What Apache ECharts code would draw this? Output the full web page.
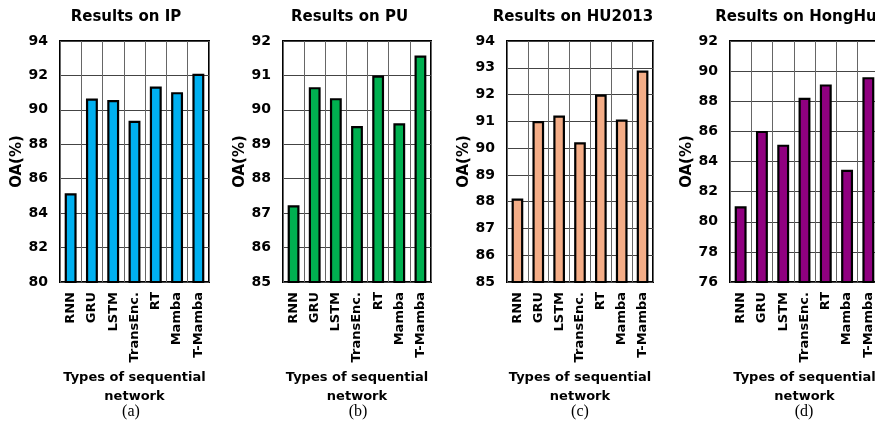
<!DOCTYPE html>
<html>
<head>
<meta charset="utf-8">
<script src="https://cdn.jsdelivr.net/npm/echarts@6/dist/echarts.min.js"></script>
<style>
html,body{margin:0;padding:0;background:#fff;}
#chart{width:875px;height:428px;}
</style>
</head>
<body>
<div id="chart"></div>
<script>
const categories = ['RNN', 'GRU', 'LSTM', 'TransEnc.', 'RT', 'Mamba', 'T-Mamba'];
const ipValues = [85.15, 90.66, 90.57, 89.36, 91.35, 91.03, 92.1];
const puValues = [87.23, 90.66, 90.34, 89.53, 91.0, 89.61, 91.58];
const hu2013Values = [88.12, 91.01, 91.22, 90.22, 92.0, 91.07, 92.9];
const honghuValues = [81.03, 86.03, 85.12, 88.23, 89.12, 83.45, 89.6];
const titles = ['Results on IP', 'Results on PU', 'Results on HU2013', 'Results on HongHu'];
const captions = ['(a)', '(b)', '(c)', '(d)'];
const yMins = [80, 85, 85, 76];
const yMaxs = [94, 92, 94, 92];
const yIntervals = [2, 1, 1, 2];

const seriesValues = [ipValues, puValues, hu2013Values, honghuValues];
const colors = ['#00B0F0', '#00B050', '#F4AD87', '#900080'];
const gridLefts = [60, 283, 507, 730];
const gridWidths = [149, 148, 146, 149];
const titleCenters = [121, 344.5, 568, 791];
const captionCenters = [131, 358, 580, 804];
const font = '"DejaVu Sans", sans-serif';

const chart = echarts.init(document.getElementById('chart'), null, {renderer: 'canvas'});
const grid = [], xAxis = [], yAxis = [], series = [], title = [], graphic = [];
for (let i = 0; i < 4; i++) {
  grid.push({left: gridLefts[i], top: 41, width: gridWidths[i], height: 241,
    outerBoundsMode: 'none', containLabel: false,
    show: true, borderColor: '#000', borderWidth: 2, backgroundColor: 'transparent'});
  xAxis.push({type: 'category', gridIndex: i, data: categories,
    axisLine: {show: false}, axisTick: {show: false},
    splitLine: {show: true, lineStyle: {color: '#666', width: 1}},
    axisLabel: {rotate: 90, margin: 10, fontFamily: font, fontWeight: 'bold', fontSize: 13, color: '#000', interval: 0},
    name: 'Types of sequential\nnetwork', nameLocation: 'middle', nameGap: 86, nameMoveOverlap: false,
    nameTextStyle: {fontFamily: font, fontWeight: 'bold', fontSize: 13, color: '#000', lineHeight: 19}});
  yAxis.push({type: 'value', gridIndex: i, min: yMins[i], max: yMaxs[i], interval: yIntervals[i],
    axisLine: {show: false}, axisTick: {show: false},
    splitLine: {show: true, lineStyle: {color: '#444', width: 1}},
    axisLabel: {margin: 12, fontFamily: font, fontWeight: 'bold', fontSize: 14, color: '#000'},
    name: 'OA(%)', nameLocation: 'middle', nameGap: 35, nameMoveOverlap: false,
    nameTextStyle: {fontFamily: font, fontWeight: 'bold', fontSize: 15, color: '#000'}});
  series.push({type: 'bar', xAxisIndex: i, yAxisIndex: i, data: seriesValues[i], barWidth: '56%',
    itemStyle: {color: colors[i], borderColor: '#000', borderWidth: 2.2}, animation: false});
  title.push({text: titles[i], left: titleCenters[i], top: 5, textAlign: 'center',
    textStyle: {fontFamily: font, fontWeight: 'bold', fontSize: 15, color: '#000'}});
  graphic.push({type: 'text', x: captionCenters[i], y: 412,
    style: {text: captions[i], font: '16px "Liberation Serif", serif', fill: '#000', align: 'center', verticalAlign: 'middle'}});
}
chart.setOption({animation: false, grid, xAxis, yAxis, series, title, graphic});
</script>
</body>
</html>
